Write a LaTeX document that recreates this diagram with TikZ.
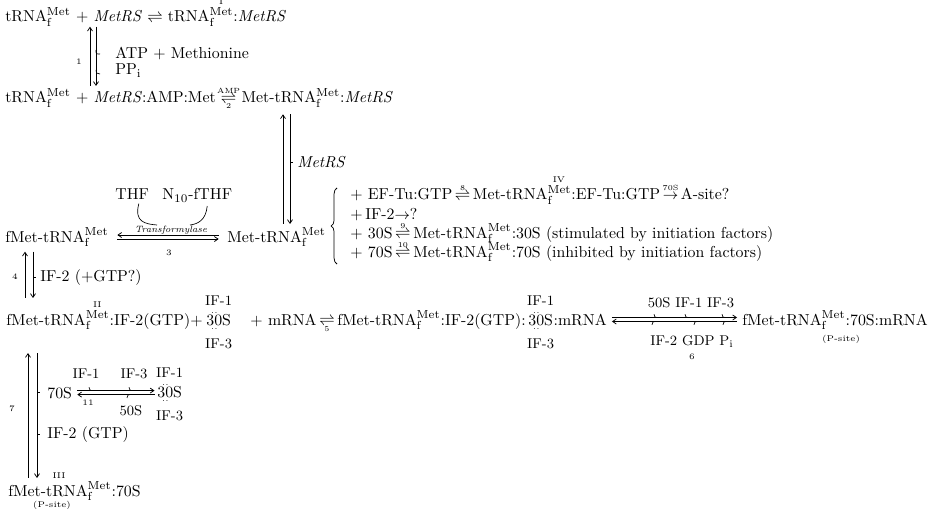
\documentclass[tikz,border=0pt]{standalone}
\usetikzlibrary{arrows.meta, positioning, decorations.pathreplacing}

\newcommand{\trnaf}{tRNA$^{\mathrm{Met}}_{\mathrm{f}}$}
\newcommand{\trnaN}[1]{tRNA$^{\mathop{\mathrm{Met}}\limits^{\scriptscriptstyle\mathrm{#1}}}_{\mathrm{f}}$}
\newcommand{\mrs}{\textit{MetRS}}
\newsavebox{\rxbox}
\newcommand{\rxlab}[3]{\mbox{\sbox{\rxbox}{#1}%
  \rlap{\makebox[\wd\rxbox]{\raisebox{5.8pt}{\fontsize{4.5}{5}\selectfont #2}}}%
  \rlap{\makebox[\wd\rxbox]{\raisebox{-3.6pt}{\fontsize{4.5}{5}\selectfont #3}}}%
  \usebox{\rxbox}}}
\newcommand{\eqlab}[2]{\rxlab{$\rightleftharpoons$}{#1}{#2}}
\newcommand{\fwdlab}[1]{\rxlab{$\rightarrow$}{#1}{}}
\newcommand{\ddS}{3\makebox[0pt]{\raisebox{6.8pt}{\tiny..}}\makebox[0pt]{\raisebox{-2.8pt}{\tiny..}}0S}

\begin{document}
\begin{tikzpicture}[x=0.6pt, y=-0.6pt,
  txt/.style={anchor=base west, inner sep=0pt, font=\fontsize{9.5}{11}\selectfont},
  ifl/.style={anchor=base, inner sep=0pt, font=\fontsize{8.5}{10}\selectfont},
  num/.style={inner sep=0pt, font=\fontsize{5}{6}\selectfont},
  fwd/.style={-{Straight Barb[length=2.2pt,width=3pt]}, line width=0.45pt},
  tick/.style={line width=0.4pt}]
\useasboundingbox (0,0) rectangle (934,509);

% step 1: charging of tRNA
\node[txt] (r1) at (5,22) {\trnaf{} + \mrs{} $\rightleftharpoons$ \trnaN{I}:\mrs};
\node[txt] (r3) at (5,103) {\trnaf{} + \mrs:AMP:Met \eqlab{AMP}{2} Met-\trnaf:\mrs};
\coordinate (c1u) at (90,0);
\coordinate (c1d) at (96,0);
\draw[fwd, shorten <=1pt] (r3.north -| c1u) -- (r1.south -| c1u);
\draw[fwd, shorten >=1pt] (r1.south -| c1d) -- (r3.north -| c1d);
\node[num] (n1) at (79,62) {1};
\node[txt] (atp) at (115,59) {ATP + Methionine};
\node[txt] (ppi) at (115,75) {PP$_\mathrm{i}$};
\draw[tick] (96,50) .. controls (96,54) .. (100,54);
\draw[tick] (96,70) .. controls (96,73) .. (100,74);

% release from MetRS
\node[txt] (met) at (227,242) {Met-\trnaf};
\coordinate (c2u) at (283,0);
\coordinate (c2d) at (290,0);
\draw[fwd, shorten <=2pt, shorten >=3pt] (met.north -| c2u) -- (r3.south -| c2u);
\draw[fwd, shorten <=3pt, shorten >=2pt] (r3.south -| c2d) -- (met.north -| c2d);
\node[txt] (mrsl) at (297,168) {\mrs};
\draw[tick] (c2d |- mrsl.west) -- ++(3,0);

% step 3: formylation
\node[txt] (tFor) at (5,242) {fMet-\trnaf};
\node[txt] (thf) at (115,200) {THF};
\node[txt] (nthf) at (162,200) {N$_{10}$-fTHF};
\draw[fwd, shorten <=5pt, shorten >=5pt] ([yshift=1.2pt]met.west) -- ([yshift=1.2pt]met.west -| tFor.east);
\draw[fwd, shorten <=5pt, shorten >=5pt] ([yshift=-1.2pt]met.west -| tFor.east) -- ([yshift=-1.2pt]met.west);
\draw[tick] ([xshift=4pt, yshift=-2pt]thf.south) .. controls (134,222) and (145,224) .. (157,225);
\draw[tick] ([xshift=6pt, yshift=-2pt]nthf.south) .. controls (206,220) and (198,224) .. (190,225);
\node[num, font=\fontsize{5.5}{6}\itshape] (tfl) at (171,230) {Transformylase};
\node[num] (n3) at (169,253) {3};

% side reactions of Met-tRNA
\draw[decorate, decoration={brace, amplitude=3.5pt}, line width=0.45pt] (337,264) -- (337,188);
\node[txt] (b1) at (350,200) {+ EF-Tu:GTP\,\eqlab{8}{}\,Met-\trnaN{IV}:EF-Tu:GTP\,\fwdlab{70S}\,A-site?};
\node[txt] (b2) at (350,219) {+\,IF-2$\rightarrow$?};
\node[txt] (b3) at (350,238) {+ 30S\,\eqlab{9}{}\,Met-\trnaf:30S (stimulated by initiation factors)};
\node[txt] (b4) at (350,257) {+ 70S\,\eqlab{10}{}\,Met-\trnaf:70S (inhibited by initiation factors)};

% step 4: IF-2 binding
\node[txt, anchor=base east] (r6a) at (203,325) {fMet-\trnaN{II}:IF-2(GTP)+};
\node[txt] (s30a) at (206,325) {\ddS};
\node[ifl, above=4pt of s30a] (if1a) {IF-1};
\node[ifl, below=5pt of s30a] (if3a) {IF-3};
\coordinate (c4u) at (25,0);
\coordinate (c4d) at (33,0);
\draw[fwd, shorten <=1pt, shorten >=3pt] (r6a.north -| c4u) -- (tFor.south -| c4u);
\draw[fwd, shorten <=3pt, shorten >=1pt] (tFor.south -| c4d) -- (r6a.north -| c4d);
\node[num] (n4) at (15,277) {4};
\node[txt] (if2g) at (40,281) {IF-2 (+GTP?)};
\draw[tick] (c4d |- if2g.west) -- ++(3,0);

% step 5 and 6: initiation complex
\node[txt, anchor=base east] (r6b) at (526,325) {+ mRNA\,\eqlab{}{5}\,fMet-\trnaf:IF-2(GTP):};
\node[txt] (s30b) at (528,325) {\ddS};
\node[txt] (mrnab) at (s30b.base east) {:mRNA};
\node[ifl, above=4pt of s30b] (if1b) {IF-1};
\node[ifl, below=5pt of s30b] (if3b) {IF-3};
\node[txt] (tEnd) at (742,325) {fMet-\trnaf:70S:mRNA};
\node[num] (pst) at (841,339) {(P-site)};
\coordinate (a6l) at (mrnab.east);
\coordinate (a6r) at (mrnab.east -| tEnd.west);
\draw[fwd, shorten <=3pt, shorten >=3pt] ([yshift=1.2pt]a6l) -- ([yshift=1.2pt]a6r);
\draw[fwd, shorten <=3pt, shorten >=3pt] ([yshift=-1.2pt]a6r) -- ([yshift=-1.2pt]a6l);
\node[ifl] (a6top) at (691,307) {50S IF-1 IF-3};
\node[ifl] (a6bot) at (692,345) {IF-2 GDP P$_\mathrm{i}$};
\node[num] (n6) at (692,357) {6};
\foreach \x in {657,688,725}
  \draw[tick] ([xshift=\x*0.6pt, yshift=1.2pt]a6l -| 0,0) .. controls +(-1.2pt,0) .. +(-1.8pt,2pt);
\foreach \x in {655,697,726}
  \draw[tick] ([xshift=\x*0.6pt, yshift=-1.2pt]a6l -| 0,0) .. controls +(-1.2pt,0) .. +(-1.8pt,-2pt);

% step 7: 70S complex
\node[txt] (tBot) at (8,496) {fMet-\trnaf:70S};
\node[num] (n3rm) at (59,476) {III};
\node[num] (pst2) at (52,505) {(P-site)};
\coordinate (c7u) at (28,0);
\coordinate (c7d) at (37,0);
\draw[fwd, shorten <=2pt, shorten >=14pt] (tBot.north -| c7u) -- (r6a.south -| c7u);
\draw[fwd, shorten <=14pt, shorten >=2pt] (r6a.south -| c7d) -- (tBot.north -| c7d);
\node[num] (n7) at (12,409) {7};
\node[txt] (s70) at (47,398) {70S};
\node[txt] (if2b) at (47,438) {IF-2 (GTP)};
\draw[tick] (c7d |- s70.west) -- ++(3,0);
\draw[tick] (c7d |- if2b.west) -- ++(3,0);

% step 11: ribosome dissociation
\node[txt] (s30c) at (157,397) {\ddS};
\node[ifl, above=4pt of s30c] (if1c) {IF-1};
\node[ifl, below=5pt of s30c] (if3c) {IF-3};
\coordinate (a11l) at (s70.east);
\coordinate (a11r) at (s70.east -| s30c.west);
\draw[fwd, shorten <=3pt, shorten >=1.5pt] ([yshift=1.2pt]a11l) -- ([yshift=1.2pt]a11r);
\draw[fwd, shorten <=1.5pt, shorten >=3pt] ([yshift=-1.2pt]a11r) -- ([yshift=-1.2pt]a11l);
\node[ifl] (if1d) at (86,378) {IF-1};
\node[ifl] (if3d) at (134,378) {IF-3};
\node[ifl] (s50d) at (131,415) {50S};
\node[num] (n11) at (88,403) {11};
\foreach \x in {92,132}
  \draw[tick] ([xshift=\x*0.6pt, yshift=1.2pt]a11l -| 0,0) .. controls +(-1.2pt,0) .. +(-1.8pt,2pt);
\draw[tick] ([xshift=130*0.6pt, yshift=-1.2pt]a11l -| 0,0) .. controls +(-1.2pt,0) .. +(-1.8pt,-2pt);
\end{tikzpicture}
\end{document}
